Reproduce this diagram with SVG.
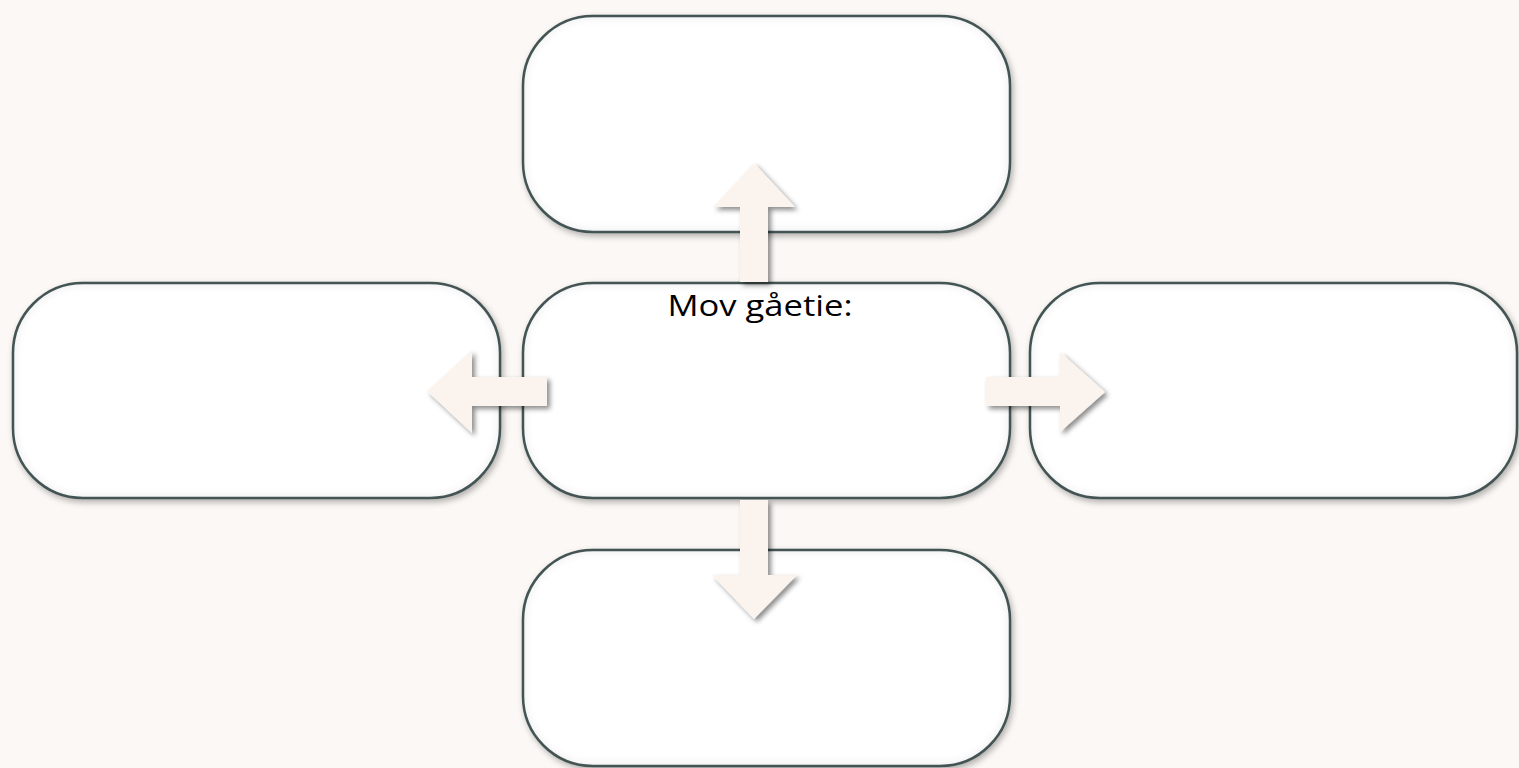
<svg xmlns="http://www.w3.org/2000/svg" width="1519" height="768" viewBox="0 0 1519 768">
<defs>
<style>
.box{fill:#ffffff;stroke:#4a5a5a;stroke-width:2.5;filter:url(#boxfx)}
.arrow{fill:#fbf4ee;filter:url(#arrfx)}
.lbl{font-family:"Open Sans","Liberation Sans",sans-serif;font-size:30px;fill:#000}
</style>
<filter id="boxfx" x="-10%" y="-15%" width="120%" height="130%">
<feComponentTransfer in="SourceAlpha" result="inv"><feFuncA type="table" tableValues="1 0"/></feComponentTransfer>
<feGaussianBlur in="inv" stdDeviation="6" result="invb"/>
<feFlood flood-color="#000" flood-opacity="0.28"/>
<feComposite in2="invb" operator="in" result="sh"/>
<feComposite in="sh" in2="SourceAlpha" operator="in" result="inner"/>
<feGaussianBlur in="SourceAlpha" stdDeviation="3" result="ob"/>
<feOffset in="ob" dx="2" dy="3" result="obo"/>
<feFlood flood-color="#000" flood-opacity="0.3"/>
<feComposite in2="obo" operator="in" result="outer"/>
<feMerge><feMergeNode in="outer"/><feMergeNode in="SourceGraphic"/><feMergeNode in="inner"/></feMerge>
</filter>
<filter id="arrfx" x="-20%" y="-20%" width="150%" height="150%">
<feGaussianBlur in="SourceAlpha" stdDeviation="2.5" result="b"/>
<feOffset in="b" dx="3" dy="3" result="o"/>
<feFlood flood-color="#000" flood-opacity="0.45"/>
<feComposite in2="o" operator="in" result="s"/>
<feMerge><feMergeNode in="s"/><feMergeNode in="SourceGraphic"/></feMerge>
</filter>
</defs>
<rect width="1519" height="768" fill="#fbf8f5"/>
<g id="node-top"><rect class="box" x="523" y="16" width="487" height="216" rx="70" ry="70"/></g>
<g id="node-left"><rect class="box" x="13" y="283" width="487" height="215" rx="70" ry="70"/></g>
<g id="node-center"><rect class="box" x="523" y="283" width="487" height="215" rx="70" ry="70"/>
<text class="lbl" x="760" y="316" text-anchor="middle" textLength="185" lengthAdjust="spacingAndGlyphs">Mov gåetie:</text></g>
<g id="node-right"><rect class="box" x="1030" y="283" width="487" height="215" rx="70" ry="70"/></g>
<g id="node-bottom"><rect class="box" x="523" y="550" width="487" height="216" rx="70" ry="70"/></g>
<g id="connectors">
<polygon class="arrow" points="740,282 768,282 768,207 795,207 754,163 713,207 740,207"/>
<polygon class="arrow" points="547,377 547,406 472,406 472,433 427,391 472,350 472,377"/>
<polygon class="arrow" points="986,377 1060,377 1060,352 1105,392 1060,432 1060,406 986,406"/>
<polygon class="arrow" points="740,500 768,500 768,575 797,575 754,619 712,575 740,575"/>
</g>
</svg>
